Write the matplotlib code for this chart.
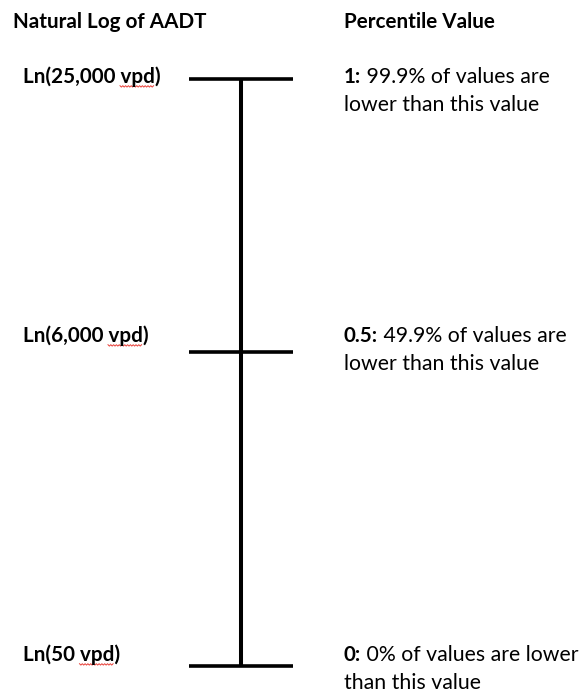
import matplotlib
matplotlib.use("Agg")
import matplotlib.pyplot as plt
import numpy as np

# ---- content ----
header_left = "Natural Log of AADT"
header_right = "Percentile Value"
aadt_labels = ["Ln(25,000 vpd)", "Ln(6,000 vpd)", "Ln(50 vpd)"]
aadt_unit = "vpd"
percentile_values = ["1", "0.5", "0"]
percentile_desc_line1 = [" 99.9% of values are", " 49.9% of values are", " 0% of values are lower"]
percentile_desc_line2 = ["lower than this value", "lower than this value", "than this value"]

# ---- layout (pixel coordinates of the diagram) ----
W, H = 584, 692
tick_y = [79, 352, 666]          # vertical positions of the three ticks
axis_x = 241
bar_x0, bar_x1 = 189, 293
left_x = 23
right_x = 344
label_baseline_offset = [4, -10, -5]
line_gap = 28

FONT = "Lato"
FS_B = 14.9
FS_R = 15.3

fig = plt.figure(figsize=(W / 100, H / 100), dpi=100)
ax = fig.add_axes([0, 0, 1, 1])
ax.set_xlim(0, W)
ax.set_ylim(H, 0)
ax.axis("off")

# vertical axis line
ax.plot([axis_x, axis_x], [tick_y[0], tick_y[-1]], color="black", lw=2.9,
        solid_capstyle="butt")
# horizontal ticks
for y in tick_y:
    ax.plot([bar_x0, bar_x1], [y, y], color="black", lw=2.6, solid_capstyle="butt")

# headers
ax.text(13, 28, header_left, fontfamily=FONT, fontweight="bold", fontsize=FS_B,
        va="baseline", ha="left", color="black")
ax.text(right_x, 28, header_right, fontfamily=FONT, fontweight="bold", fontsize=FS_B,
        va="baseline", ha="left", color="black")

fig.canvas.draw()
renderer = fig.canvas.get_renderer()
inv = ax.transData.inverted()


def text_right_x(s, y):
    """Right edge (data x) of bold string s drawn at left_x."""
    t = ax.text(left_x, y, s, fontfamily=FONT, fontweight="bold", fontsize=FS_B,
                va="baseline", ha="left")
    bb = t.get_window_extent(renderer)
    t.remove()
    return inv.transform([[bb.x1, bb.y0]])[0][0]


for i, y in enumerate(tick_y):
    base = y + label_baseline_offset[i]
    label = aadt_labels[i]
    ax.text(left_x, base, label, fontfamily=FONT, fontweight="bold",
            fontsize=FS_B, va="baseline", ha="left", color="black")
    # red spell-check squiggle under the unit
    k = label.index(aadt_unit)
    xa = text_right_x(label[:k].rstrip(), base) + 4.5
    xb = text_right_x(label[:k + len(aadt_unit)], base)
    xs = np.arange(xa, xb, 1.4)
    ys = base + 3.4 + np.where(np.arange(len(xs)) % 2 == 0, -0.7, 0.7)
    ax.plot(xs, ys, color="#e8413a", lw=0.7)

    pre = ax.text(right_x, base, percentile_values[i] + ":", fontfamily=FONT,
                  fontweight="bold", fontsize=FS_B, va="baseline", ha="left",
                  color="black")
    ax.annotate(percentile_desc_line1[i], xy=(1, 0), xycoords=pre,
                fontfamily=FONT, fontsize=FS_R, va="bottom", ha="left",
                color="black")
    ax.text(right_x, base + line_gap, percentile_desc_line2[i], fontfamily=FONT,
            fontsize=FS_R, va="baseline", ha="left", color="black")

fig.savefig("out.png", dpi=100)
